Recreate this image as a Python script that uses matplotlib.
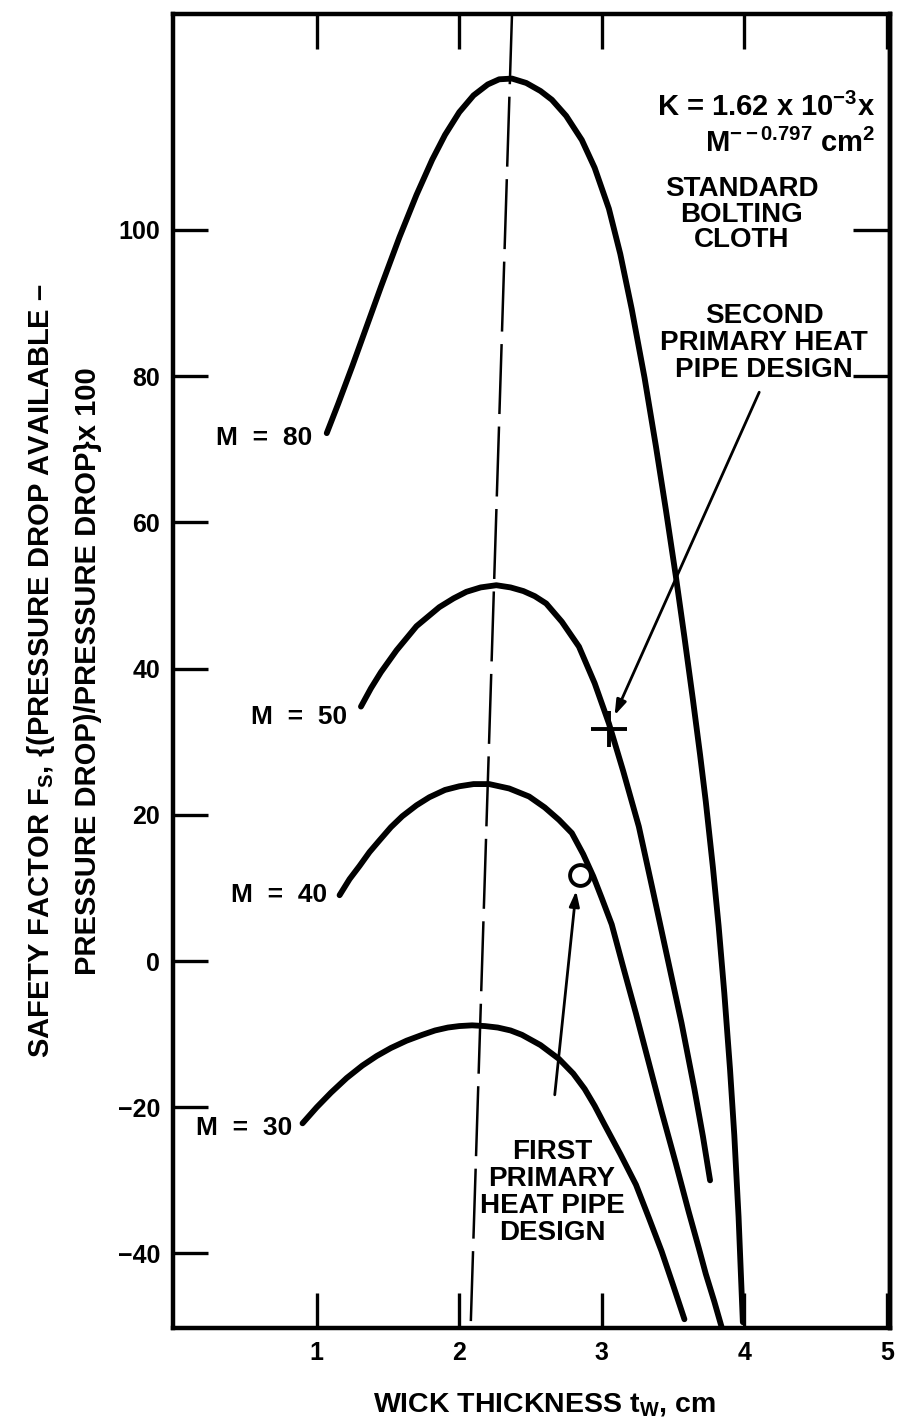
import matplotlib
matplotlib.use("Agg")
import matplotlib.pyplot as plt

plt.rcParams['font.family'] = ['Liberation Sans', 'DejaVu Sans']
plt.rcParams['font.weight'] = 'bold'
plt.rcParams['mathtext.fontset'] = 'custom'
plt.rcParams['mathtext.rm'] = 'Liberation Sans:bold'
plt.rcParams['mathtext.bf'] = 'Liberation Sans:bold'
plt.rcParams['mathtext.it'] = 'Liberation Sans:bold'
plt.rcParams['mathtext.default'] = 'bf'

# ---- data ----
m80_x = [1.07, 1.15, 1.25, 1.35, 1.45, 1.58, 1.70, 1.81, 1.90, 2.00, 2.10, 2.20, 2.28, 2.37, 2.47,
         2.57, 2.65, 2.75, 2.86, 2.95, 3.05, 3.13, 3.21, 3.30, 3.38, 3.45, 3.52, 3.58, 3.64, 3.69,
         3.73, 3.78, 3.82, 3.86, 3.90, 3.93, 3.96, 3.99]
m80_y = [72.2, 76.2, 81.4, 86.8, 92.2, 99.0, 104.8, 109.6, 113.0, 116.1, 118.4, 119.9, 120.6, 120.7, 120.1,
         119.0, 117.8, 115.6, 112.3, 108.5, 102.9, 96.7, 89.2, 79.8, 70.4, 61.7, 52.6, 44.3, 35.7, 28.2,
         21.8, 12.8, 4.8, -4.4, -14.8, -23.8, -35.0, -49.4]

m50_x = [1.31, 1.38, 1.45, 1.56, 1.70, 1.86, 1.96, 2.05, 2.15, 2.26, 2.36, 2.45, 2.53, 2.61, 2.72,
         2.84, 2.95, 3.05, 3.15, 3.26, 3.36, 3.46, 3.56, 3.65, 3.71, 3.76]
m50_y = [34.8, 37.3, 39.5, 42.5, 45.8, 48.4, 49.6, 50.5, 51.1, 51.4, 51.1, 50.6, 49.9, 48.9, 46.4,
         43.0, 38.0, 32.5, 26.0, 18.4, 9.5, 0.5, -8.5, -17.5, -24.0, -30.0]

m40_x = [1.16, 1.23, 1.30, 1.37, 1.44, 1.52, 1.60, 1.70, 1.79, 1.90, 2.00, 2.10, 2.21, 2.35, 2.49,
         2.60, 2.70, 2.79, 2.87, 2.94, 3.00, 3.07, 3.15, 3.24, 3.33, 3.42, 3.52, 3.61, 3.68, 3.73,
         3.79, 3.84]
m40_y = [9.0, 11.2, 13.0, 14.9, 16.5, 18.3, 19.8, 21.3, 22.4, 23.4, 23.9, 24.2, 24.2, 23.6, 22.5,
         21.0, 19.3, 17.5, 14.6, 11.6, 8.6, 5.0, -0.8, -7.2, -13.9, -20.6, -27.7, -34.3, -39.2, -42.8,
         -46.6, -50.0]

m30_x = [0.90, 1.00, 1.10, 1.21, 1.32, 1.42, 1.52, 1.63, 1.74, 1.83, 1.92, 2.00, 2.09, 2.18, 2.27,
         2.36, 2.44, 2.57, 2.70, 2.80, 2.88, 2.95, 3.02, 3.13, 3.24, 3.33, 3.42, 3.50, 3.58]
m30_y = [-22.2, -20.0, -18.0, -16.0, -14.3, -13.0, -11.9, -10.9, -10.1, -9.5, -9.1, -8.9, -8.8, -8.9, -9.1,
         -9.5, -10.1, -11.5, -13.4, -15.4, -17.5, -19.8, -22.4, -26.4, -30.6, -35.1, -39.7, -44.3, -49.0]

curve_labels = ["M  =  80", "M  =  50", "M  =  40", "M  =  30"]
label_x = [0.97, 1.21, 1.07, 0.83]
label_y = [71.5, 33.4, 9.0, -22.8]

optimum_x = [2.37, 2.08]
optimum_y = [129.5, -50.0]

first_design = (2.85, 11.8)
second_design = (3.05, 31.8)

x_ticks = [1, 2, 3, 4, 5]
y_ticks = [-40, -20, 0, 20, 40, 60, 80, 100]

# ---- figure ----
fig = plt.figure(figsize=(9.05, 14.24), dpi=100)
ax = fig.add_axes([0.191, 0.0674, 0.792, 0.9226])

lw = 4.2
for xs, ys in [(m80_x, m80_y), (m50_x, m50_y), (m40_x, m40_y), (m30_x, m30_y)]:
    ax.plot(xs, ys, color='black', lw=lw, solid_capstyle='round', solid_joinstyle='round')

ax.plot(optimum_x, optimum_y, color='black', lw=1.8, dashes=(28, 5))

for t, lx, ly in zip(curve_labels, label_x, label_y):
    ax.text(lx, ly, t, ha='right', va='center', fontsize=19, fontweight='bold')

# design points
ax.plot([first_design[0]], [first_design[1]], marker='o', ms=15, mfc='white', mec='black', mew=2.8, zorder=5)
ax.plot([second_design[0]], [second_design[1]], marker='+', ms=26, mec='black', mew=2.8, zorder=5)

# annotations
ax.annotate("", xy=(3.09, 33.6), xytext=(4.105, 77.8),
            arrowprops=dict(arrowstyle='-|>,head_length=0.9,head_width=0.3', color='black', lw=2.0, shrinkA=0, shrinkB=0))
ax.annotate("", xy=(2.82, 9.6), xytext=(2.67, -18.3),
            arrowprops=dict(arrowstyle='-|>,head_length=0.9,head_width=0.3', color='black', lw=2.0, shrinkA=0, shrinkB=0))

ax.text(4.14, 84.6, "SECOND\nPRIMARY HEAT\nPIPE DESIGN", ha='center', va='center',
        fontsize=20, fontweight='bold', linespacing=1.05)
ax.text(2.65, -31.7, "FIRST\nPRIMARY\nHEAT PIPE\nDESIGN", ha='center', va='center',
        fontsize=20, fontweight='bold', linespacing=1.05)
ax.text(3.98, 102.1, "STANDARD\nBOLTING\nCLOTH", ha='center', va='center',
        fontsize=20, fontweight='bold', linespacing=0.98)
ax.text(4.92, 116.7, r"K = 1.62 x 10$^{-3}$x", ha='right', va='center', fontsize=21, fontweight='bold')
ax.text(4.92, 111.9, r"M$^{--0.797}$ cm$^{2}$", ha='right', va='center', fontsize=21, fontweight='bold')

ax.set_xlim(-0.01, 5.02)
ax.set_ylim(-50.2, 129.5)
ax.set_xticks(x_ticks)
ax.set_xticklabels([str(v) for v in x_ticks])
ax.set_yticks(y_ticks)
ax.set_yticklabels([str(v).replace('-', '\u2212') for v in y_ticks])
ax.tick_params(axis='both', direction='in', length=25, width=2.4, labelsize=18, pad=9)
ax.tick_params(axis='x', top=True, labeltop=False)
for lab in ax.get_xticklabels() + ax.get_yticklabels():
    lab.set_fontweight('bold')

sec = ax.secondary_yaxis('right')
sec.set_yticks([80, 100])
sec.tick_params(direction='in', length=27, width=2.4, labelright=False)
sec.spines['right'].set_linewidth(3.2)

for s in ax.spines.values():
    s.set_linewidth(3.2)

ax.set_xlabel(r"WICK THICKNESS t$_{W}$, cm", fontsize=20.5, fontweight='bold')
ax.xaxis.set_label_coords(0.519, -0.048)
ax.set_ylabel("SAFETY FACTOR F$_{S}$, {(PRESSURE DROP AVAILABLE \u2013\nPRESSURE DROP)/PRESSURE DROP}x 100",
              fontsize=21, fontweight='bold', linespacing=1.75)
ax.yaxis.set_label_coords(-0.099, 0.5)

fig.savefig("out.png", dpi=100)
